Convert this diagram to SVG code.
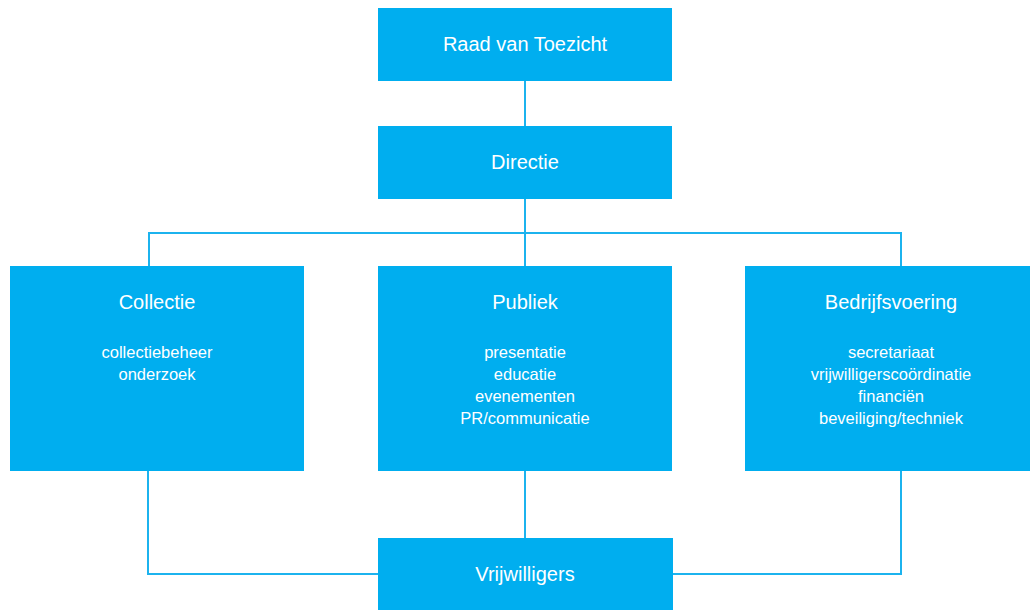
<svg xmlns="http://www.w3.org/2000/svg" width="1030" height="610" viewBox="0 0 1030 610">
<style>
.box{fill:#00aeef}
.t{font-family:"Liberation Sans",Arial,sans-serif;fill:#ffffff;text-anchor:middle}
.h{font-size:20px}
.i{font-size:16.5px}
.c{fill:none;stroke:#1cb3ee;stroke-width:2}
</style>
<rect width="1030" height="610" fill="#ffffff"/>
<g id="connectors">
<path class="c" d="M525 81V126"/>
<path class="c" d="M525 199V266"/>
<path class="c" d="M149 266V233H901V266"/>
<path class="c" d="M148 471V574H378"/>
<path class="c" d="M525 471V538"/>
<path class="c" d="M901 471V574H672"/>
</g>
<g id="raad">
<rect class="box" x="378" y="8" width="294" height="73"/>
<text class="t h" x="525" y="51">Raad van Toezicht</text>
</g>
<g id="directie">
<rect class="box" x="378" y="126" width="294" height="73"/>
<text class="t h" x="525" y="169">Directie</text>
</g>
<g id="collectie">
<rect class="box" x="10" y="266" width="294" height="205"/>
<text class="t h" x="157" y="309">Collectie</text>
<text class="t i" x="157" y="358">collectiebeheer</text>
<text class="t i" x="157" y="380">onderzoek</text>
</g>
<g id="publiek">
<rect class="box" x="378" y="266" width="294" height="205"/>
<text class="t h" x="525" y="309">Publiek</text>
<text class="t i" x="525" y="358">presentatie</text>
<text class="t i" x="525" y="380">educatie</text>
<text class="t i" x="525" y="402">evenementen</text>
<text class="t i" x="525" y="424">PR/communicatie</text>
</g>
<g id="bedrijfsvoering">
<rect class="box" x="745" y="266" width="294" height="205"/>
<text class="t h" x="891" y="309">Bedrijfsvoering</text>
<text class="t i" x="891" y="358">secretariaat</text>
<text class="t i" x="891" y="380">vrijwilligerscoördinatie</text>
<text class="t i" x="891" y="402">financiën</text>
<text class="t i" x="891" y="424">beveiliging/techniek</text>
</g>
<g id="vrijwilligers">
<rect class="box" x="378" y="538" width="295" height="72"/>
<text class="t h" x="525" y="581">Vrijwilligers</text>
</g>
</svg>
